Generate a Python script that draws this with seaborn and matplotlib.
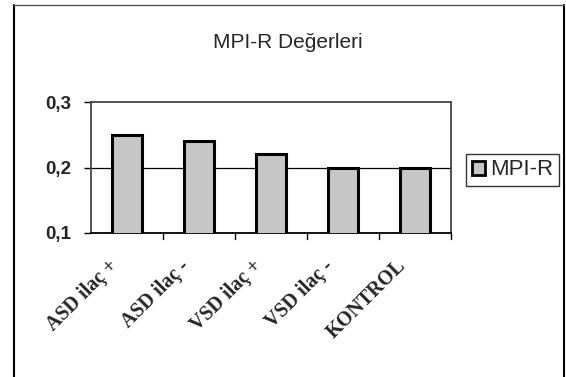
import matplotlib
matplotlib.use("Agg")
import matplotlib.pyplot as plt
import seaborn as sns
import pandas as pd
from matplotlib.patches import Rectangle
from matplotlib.lines import Line2D
from matplotlib.transforms import blended_transform_factory, ScaledTranslation

categories = ["ASD ilaç +", "ASD ilaç -", "VSD ilaç +", "VSD ilaç -", "KONTROL"]
values = [0.25, 0.24, 0.22, 0.20, 0.20]
series_name = "MPI-R"
title = "MPI-R Değerleri"
yticks = [0.1, 0.2, 0.3]
ytick_labels = ["0,1", "0,2", "0,3"]

df = pd.DataFrame({"cat": categories, "val": values, "series": series_name})

sns.set_style("white")
fig = plt.figure(figsize=(5.66, 3.77), dpi=100)
ax = fig.add_axes([91/566, 1-233/377, 360/566, 131/377])

bar_color = "#c6c6c6"
sns.barplot(data=df, x="cat", y="val", ax=ax, color=bar_color, width=0.42,
            edgecolor="black", linewidth=2.2, saturation=1, zorder=3)

ax.set_ylim(0.1, 0.3)
ax.set_xlim(-0.5, 4.5)
ax.set_yticks(yticks)
ax.set_yticklabels(ytick_labels, fontfamily="Liberation Sans", fontweight="bold", fontsize=13.5)
ax.axhline(0.2, color="black", lw=0.9, zorder=1)
ax.set_xlabel("")
ax.set_ylabel("")

ax.set_xticks(range(len(categories)))
ax.tick_params(axis="x", length=0, pad=0)
ax.tick_params(axis="y", length=5, width=1, color="black", direction="out", left=True, pad=9)
ax.set_xticklabels(categories, rotation=45, ha="right", va="center", rotation_mode="anchor",
                   fontfamily="Liberation Serif", fontweight="bold", fontsize=14.5)
offset = ScaledTranslation(-12/100, -30/100, fig.dpi_scale_trans)
for lbl in ax.xaxis.get_majorticklabels():
    lbl.set_transform(lbl.get_transform() + offset)

tr = blended_transform_factory(ax.transData, ax.transAxes)
for b in [0.5, 1.5, 2.5, 3.5, 4.5]:
    ax.add_line(Line2D([b, b], [0, -0.045], transform=tr, color="black", lw=1, clip_on=False))

for side in ["top", "right", "left"]:
    ax.spines[side].set_color("#444444")
    ax.spines[side].set_linestyle((0, (1, 1)))
    ax.spines[side].set_linewidth(1.3)
ax.spines["bottom"].set_color("black")
ax.spines["bottom"].set_linewidth(1.3)

fig.text(288/566, 1-42/377, title, ha="center", va="center",
         fontfamily="Liberation Sans", fontsize=15)

handle = Rectangle((0, 0), 1, 1, facecolor=bar_color, edgecolor="black", linewidth=2)
leg = fig.legend([handle], [series_name], loc="center left",
                 bbox_to_anchor=(466/566, 1-170/377), frameon=True, fancybox=False,
                 prop={"family": "Liberation Sans", "size": 16},
                 handlelength=0.6, handleheight=0.6, handletextpad=0.25,
                 borderpad=0.25, borderaxespad=0)
leg.get_frame().set_edgecolor("black")
leg.get_frame().set_linewidth(1)

# outer chart border
fig.add_artist(Line2D([14/566, 14/566], [0, 1-5/377], transform=fig.transFigure, color="black", lw=1.5))
fig.add_artist(Line2D([564/566, 564/566], [0, 1-5/377], transform=fig.transFigure, color="black", lw=1.5))
fig.add_artist(Line2D([14/566, 564/566], [1-5/377, 1-5/377], transform=fig.transFigure, color="#555555", lw=1))

fig.savefig("out.png", dpi=100)
